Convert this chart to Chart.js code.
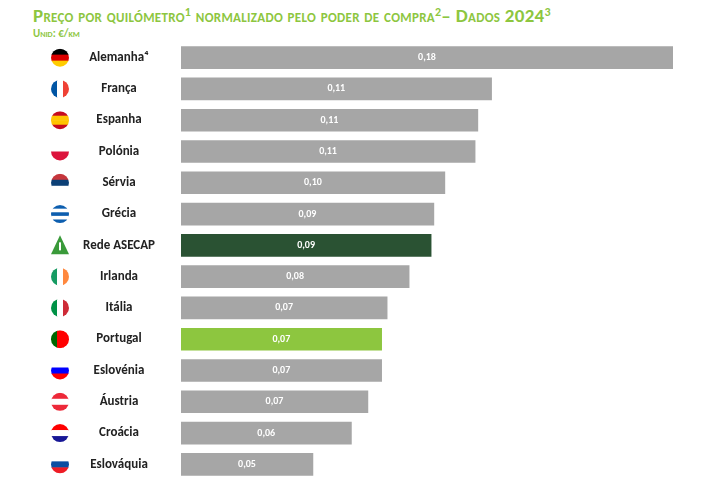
<!DOCTYPE html>
<html><head><meta charset="utf-8">
<script src="https://cdn.jsdelivr.net/npm/chart.js@4.4.0/dist/chart.umd.min.js"></script>
<style>
body{margin:0;background:#fff;font-family:Carlito,"Liberation Sans",sans-serif}
#t{position:absolute;left:33px;top:4px;color:#8dc63f;font-weight:bold;font-size:19px;font-variant:small-caps;letter-spacing:0.3px;white-space:nowrap}
#t sup{font-size:12px;vertical-align:6px;line-height:0}
#u{position:absolute;left:33px;top:27px;color:#8dc63f;font-weight:bold;font-size:11px;font-variant:small-caps}
#w{position:absolute;left:0;top:42px;width:724px;height:438px}
</style></head><body>
<div id="t">Preço por quilómetro<sup>1</sup> normalizado pelo poder de compra<sup>2</sup>– Dados 2024<sup>3</sup></div>
<div id="u">Unid: €/km</div>
<div id="w"><canvas id="c"></canvas></div>
<script>
const countries = ['Alemanha⁴','França','Espanha','Polónia','Sérvia','Grécia','Rede ASECAP','Irlanda','Itália','Portugal','Eslovénia','Áustria','Croácia','Eslováquia'];
const values = [0.179,0.113,0.108,0.107,0.096,0.092,0.091,0.083,0.075,0.073,0.073,0.068,0.062,0.048];
const valueLabels = ['0,18','0,11','0,11','0,11','0,10','0,09','0,09','0,08','0,07','0,07','0,07','0,07','0,06','0,05'];
const flags = [['#000','#d00','#fc0'],['v','#0055a4','#fff','#ef4135'],['#c60b1e','#ffc400','#ffc400','#c60b1e'],['#fff','#dc143c'],['#c6363c','#0c4076','#fff'],['#0d5eaf','#fff','#0d5eaf','#fff','#0d5eaf'],['sign'],['v','#169b62','#fff','#ff883e'],['v','#009246','#fff','#ce2b37'],['v','#006600','#ff0000','#ff0000'],['#fff','#0000ff','#ff0000'],['#ed2939','#fff','#ed2939'],['#ff0000','#fff','#171796'],['#fff','#0b4ea2','#ee1c25']];
const colors = countries.map(c => c==='Rede ASECAP' ? '#2a5233' : c==='Portugal' ? '#8dc63f' : '#a6a6a6');

const sidePlugin = {
  id:'side',
  afterDraw(chart){
    const ctx = chart.ctx, y = chart.scales.y, x = chart.scales.x;
    ctx.save();
    countries.forEach((name,i)=>{
      const cy = y.getPixelForValue(i);
      ctx.fillStyle='#222'; ctx.font='bold 13px Carlito, "Liberation Sans", sans-serif';
      ctx.textAlign='center'; ctx.textBaseline='middle';
      ctx.fillText(name,119,cy);
      const f = flags[i], cx=60, r=9;
      ctx.save();
      if(f[0]==='sign'){
        ctx.fillStyle='#3a9a3a'; ctx.beginPath(); ctx.moveTo(cx,cy-10); ctx.lineTo(cx+9,cy+9); ctx.lineTo(cx-9,cy+9); ctx.closePath(); ctx.fill();
        ctx.fillStyle='#fff'; ctx.fillRect(cx-1,cy-3,2,8);
      } else {
        ctx.beginPath(); ctx.arc(cx,cy,r,0,Math.PI*2); ctx.clip();
        if(f[0]==='v'){ const s=f.slice(1); s.forEach((c,k)=>{ctx.fillStyle=c;ctx.fillRect(cx-r+k*2*r/s.length,cy-r,2*r/s.length+0.5,2*r);}); }
        else f.forEach((c,k)=>{ctx.fillStyle=c;ctx.fillRect(cx-r,cy-r+k*2*r/f.length,2*r,2*r/f.length+0.5);});
      }
      ctx.restore();
      const bar = chart.getDatasetMeta(0).data[i];
      ctx.fillStyle='#fff'; ctx.font='bold 10px Carlito, "Liberation Sans", sans-serif';
      ctx.fillText(valueLabels[i],(x.left+bar.x)/2,cy);
    });
    ctx.restore();
  }
};

new Chart(document.getElementById('c'),{
  type:'bar',
  data:{labels:countries,datasets:[{data:values,backgroundColor:colors,barThickness:22}]},
  options:{
    indexAxis:'y',responsive:true,maintainAspectRatio:false,animation:false,
    layout:{padding:{left:181,right:51,top:0,bottom:0}},
    plugins:{legend:{display:false},tooltip:{enabled:false}},
    scales:{x:{display:false,min:0,max:0.179},y:{display:false}}
  },
  plugins:[sidePlugin]
});
</script>
</body></html>
